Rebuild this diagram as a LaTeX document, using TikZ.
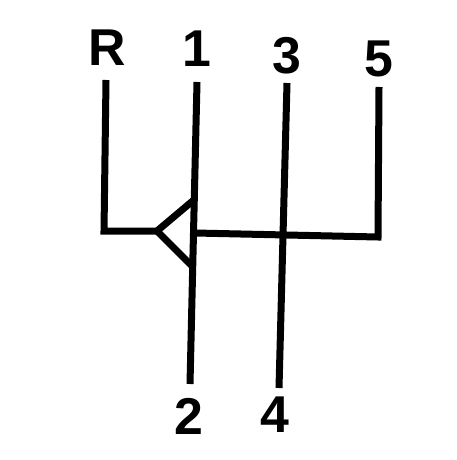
\documentclass[tikz,border=0pt]{standalone}
\usepackage{fontspec}
\setmainfont{Liberation Sans}
\tikzset{
  gate/.style={line width=7bp, black, line join=miter},
  gearlbl/.style={font=\fontsize{52}{52}\bfseries\selectfont, inner sep=0pt},
}
\begin{document}
\begin{tikzpicture}[x=1bp, y=-1bp]
	\useasboundingbox (0,0) rectangle (457,460);
	% Số trên và số dưới
	\node[gearlbl] (R) at (107,48) {R};
	\node[gearlbl] (g1) at (197,49) {1};
	\node[gearlbl] (g3) at (287,56) {3};
	\node[gearlbl] (g5) at (379,59) {5};
	\node[gearlbl] (g2) at (189,416) {2};
	\node[gearlbl] (g4) at (275,415) {4};
	% Các điểm góc của rãnh
	\coordinate (rtop) at (106,80);
	\coordinate (rcorner) at (104,231);
	\coordinate (apex) at (157,231);
	\coordinate (tup) at (195,199);
	\coordinate (tdown) at (193,267);
	\coordinate (top1) at (197,82);
	\coordinate (bot2) at (190,384);
	\coordinate (barleft) at (195,233);
	\coordinate (corner5) at (378,237);
	\coordinate (top5) at (379,87);
	\coordinate (top3) at (287,83);
	\coordinate (bot4) at (279,388);
	% Rãnh số lùi và tam giác chặn
	\draw[gate] (rtop) -- (rcorner) -- (apex);
	\draw[gate] (tup) -- (apex) -- (tdown);
	% Rãnh 1-2, 3-4 và số 5
	\draw[gate] (top1) -- (bot2);
	\draw[gate] (top3) -- (bot4);
	\draw[gate] (barleft) -- (corner5) -- (top5);
\end{tikzpicture}
\end{document}
